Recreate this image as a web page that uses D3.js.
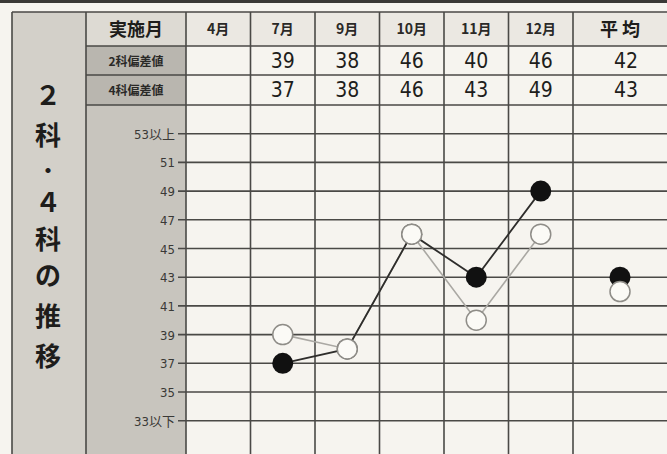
<!DOCTYPE html>
<html>
<head>
<meta charset="utf-8">
<script src="https://cdn.jsdelivr.net/npm/d3@7"></script>
<style>
  body { margin: 0; background: #f6f4ef; }
  svg { display: block; }
</style>
</head>
<body>
<div id="chart"></div>
<script>
// Data
const months = ["4月", "7月", "9月", "10月", "11月", "12月"];
const score2 = [null, 39, 38, 46, 40, 46];   // 2科偏差値 (open circles)
const score4 = [null, 37, 38, 46, 43, 49];   // 4科偏差値 (filled circles)
const avg2 = 42;
const avg4 = 43;
const rowLabels = ["2科偏差値", "4科偏差値"];
const tickValues = [53, 51, 49, 47, 45, 43, 41, 39, 37, 35, 33];
const tickLabels = ["53以上", "51", "49", "47", "45", "43", "41", "39", "37", "35", "33以下"];
const titleChars = ["２", "科", "・", "４", "科", "の", "推", "移"];

const W = 667, H = 454;
const leftX = 12, labelX = 86, gridX = 186, avgX = 573, rightX = 667;
const topY = 12, row1 = 46, row2 = 75, row3 = 105;

const svg = d3.select("#chart").append("svg")
    .attr("width", W)
    .attr("height", H);

// page background
svg.append("rect").attr("width", W).attr("height", H).attr("fill", "#f6f4ef");
// dark rule at the very top
svg.append("rect").attr("x", 0).attr("y", 0).attr("width", W).attr("height", 3).attr("fill", "#3a3936");

// Scales
const x = d3.scaleBand().domain(months).range([gridX, avgX]);
const avgCenter = (avgX + rightX) / 2;
const y = d3.scaleLinear().domain([55, 30]).range([row3, row3 + 25 * 14.35]);

// shaded cells
svg.append("rect").attr("x", leftX).attr("y", topY).attr("width", labelX - leftX).attr("height", H - topY).attr("fill", "#d3d0c9");
svg.append("rect").attr("x", labelX).attr("y", topY).attr("width", gridX - labelX).attr("height", row1 - topY).attr("fill", "#dddad3");
svg.append("rect").attr("x", labelX).attr("y", row1).attr("width", gridX - labelX).attr("height", row3 - row1).attr("fill", "#b9b6af");
svg.append("rect").attr("x", labelX).attr("y", row3).attr("width", gridX - labelX).attr("height", H - row3).attr("fill", "#c8c5be");
svg.append("rect").attr("x", gridX).attr("y", topY).attr("width", rightX - gridX).attr("height", row1 - topY).attr("fill", "#ebe8e2");

const lineColor = "#4a4946";

// horizontal grid lines in the plot area
svg.append("g")
    .selectAll("line")
    .data(tickValues)
    .join("line")
    .attr("x1", gridX - 8)
    .attr("x2", rightX)
    .attr("y1", d => y(d))
    .attr("y2", d => y(d))
    .attr("stroke", lineColor)
    .attr("stroke-width", 1.6);

// table row lines
svg.append("g")
    .selectAll("line")
    .data([topY, row1, row2, row3])
    .join("line")
    .attr("x1", d => d === topY ? leftX : labelX)
    .attr("x2", rightX)
    .attr("y1", d => d)
    .attr("y2", d => d)
    .attr("stroke", lineColor)
    .attr("stroke-width", 1.6);

// vertical lines
const vLines = [leftX, labelX].concat(months.map(m => x(m)), [avgX]);
svg.append("g")
    .selectAll("line")
    .data(vLines)
    .join("line")
    .attr("x1", d => d)
    .attr("x2", d => d)
    .attr("y1", topY)
    .attr("y2", H)
    .attr("stroke", lineColor)
    .attr("stroke-width", 1.6);

// Title column
svg.append("g")
    .selectAll("text")
    .data(titleChars)
    .join("text")
    .attr("x", 48)
    .attr("y", (d, i) => [105, 145, 178, 212, 249, 285, 326, 366][i])
    .attr("text-anchor", "middle")
    .style("font-family", "'Noto Sans CJK JP', sans-serif")
    .style("font-weight", "bold")
    .style("font-size", (d, i) => i === 2 ? "20px" : "26px")
    .style("fill", "#1e1d1b")
    .text(d => d);

// Header row
svg.append("text")
    .attr("x", (labelX + gridX) / 2)
    .attr("y", 36)
    .attr("text-anchor", "middle")
    .style("font-family", "'Noto Sans CJK JP', sans-serif")
    .style("font-weight", "bold")
    .style("font-size", "18px")
    .style("fill", "#1e1d1b")
    .text("実施月");

svg.append("g")
    .selectAll("text")
    .data(months)
    .join("text")
    .attr("x", d => x(d) + x.bandwidth() / 2)
    .attr("y", 34)
    .attr("text-anchor", "middle")
    .style("font-family", "'Noto Sans CJK JP', sans-serif")
    .style("font-weight", "bold")
    .style("font-size", "14px")
    .style("fill", "#2a2927")
    .text(d => d);

svg.append("text")
    .attr("x", avgCenter)
    .attr("y", 36)
    .attr("text-anchor", "middle")
    .style("font-family", "'Noto Sans CJK JP', sans-serif")
    .style("font-weight", "bold")
    .style("font-size", "18px")
    .style("fill", "#1e1d1b")
    .text("平 均");

// Row labels
svg.append("g")
    .selectAll("text")
    .data(rowLabels)
    .join("text")
    .attr("x", (labelX + gridX) / 2)
    .attr("y", (d, i) => i === 0 ? 66 : 95)
    .attr("text-anchor", "middle")
    .style("font-family", "'Noto Sans CJK JP', sans-serif")
    .style("font-weight", "bold")
    .style("font-size", "12px")
    .style("fill", "#2a2927")
    .text(d => d);

// Table values
const tableRows = [score2.concat([avg2]), score4.concat([avg4])];
tableRows.forEach(function(vals, r) {
    svg.append("g")
        .selectAll("text")
        .data(vals)
        .join("text")
        .attr("x", (d, i) => i < months.length ? x(months[i]) + x.bandwidth() / 2 : avgCenter + 6)
        .attr("y", r === 0 ? 68 : 97)
        .attr("text-anchor", "middle")
        .style("font-family", "'Liberation Sans Narrow', 'DejaVu Sans Condensed', sans-serif")
        .style("font-size", "21px")
        .style("fill", "#1e1d1b")
        .text(d => d === null ? "" : d);
});

// Y tick labels
svg.append("g")
    .selectAll("text")
    .data(tickValues)
    .join("text")
    .attr("x", 175)
    .attr("y", d => y(d) + 5)
    .attr("text-anchor", "end")
    .style("font-family", "'DejaVu Sans Condensed', 'Noto Sans CJK JP', sans-serif")
    .style("font-size", "13px")
    .style("fill", "#3a3936")
    .text((d, i) => tickLabels[i]);

// Series lines
const pts2 = months.map((m, i) => ({ m: m, v: score2[i] })).filter(d => d.v !== null);
const pts4 = months.map((m, i) => ({ m: m, v: score4[i] })).filter(d => d.v !== null);
const line = d3.line()
    .x(d => x(d.m) + x.bandwidth() / 2)
    .y(d => y(d.v));

svg.append("path")
    .attr("d", line(pts2))
    .attr("fill", "none")
    .attr("stroke", "#aaa8a3")
    .attr("stroke-width", 1.6);

svg.append("path")
    .attr("d", line(pts4))
    .attr("fill", "none")
    .attr("stroke", "#2e2d2b")
    .attr("stroke-width", 1.8);

// filled circles (4科)
svg.append("g")
    .selectAll("circle")
    .data(pts4.concat([{ m: "平均", v: avg4 }]))
    .join("circle")
    .attr("cx", d => d.m === "平均" ? avgCenter : x(d.m) + x.bandwidth() / 2)
    .attr("cy", d => y(d.v))
    .attr("r", 10.5)
    .attr("fill", "#111");

// open circles (2科)
svg.append("g")
    .selectAll("circle")
    .data(pts2.concat([{ m: "平均", v: avg2 }]))
    .join("circle")
    .attr("cx", d => d.m === "平均" ? avgCenter : x(d.m) + x.bandwidth() / 2)
    .attr("cy", d => y(d.v))
    .attr("r", 10)
    .attr("fill", "#fbfaf6")
    .attr("stroke", "#8f8d88")
    .attr("stroke-width", 1.5);
</script>
</body>
</html>
